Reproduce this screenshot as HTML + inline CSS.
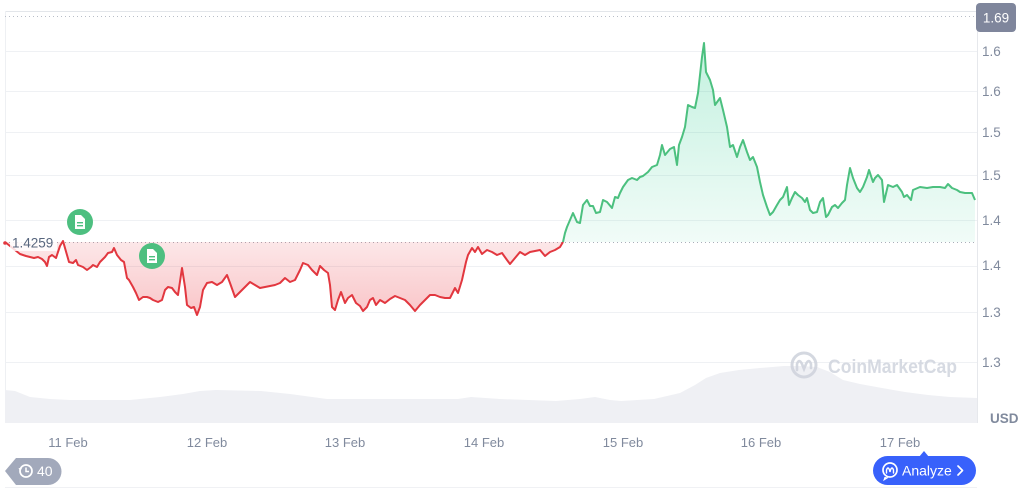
<!DOCTYPE html>
<html><head><meta charset="utf-8"><style>
html,body{margin:0;padding:0;background:#fff;}
svg{display:block;font-family:"Liberation Sans",Arial,sans-serif;}
</style></head><body>
<svg width="1024" height="491" viewBox="0 0 1024 491" xmlns="http://www.w3.org/2000/svg">
<defs>
<linearGradient id="gr" gradientUnits="userSpaceOnUse" x1="0" y1="242" x2="0" y2="318">
<stop offset="0" stop-color="#ea3943" stop-opacity="0.12"/>
<stop offset="1" stop-color="#ea3943" stop-opacity="0.30"/>
</linearGradient>
<linearGradient id="gg" gradientUnits="userSpaceOnUse" x1="0" y1="40" x2="0" y2="242">
<stop offset="0" stop-color="#16c784" stop-opacity="0.26"/>
<stop offset="1" stop-color="#16c784" stop-opacity="0.06"/>
</linearGradient>
</defs>
<rect width="1024" height="491" fill="#fff"/>
<!-- grid -->
<g stroke="#eff1f4" stroke-width="1">
<line x1="5" y1="51.5" x2="977" y2="51.5"/>
<line x1="5" y1="91.5" x2="977" y2="91.5"/>
<line x1="5" y1="132.5" x2="977" y2="132.5"/>
<line x1="5" y1="175.5" x2="977" y2="175.5"/>
<line x1="5" y1="220.5" x2="977" y2="220.5"/>
<line x1="5" y1="266.5" x2="977" y2="266.5"/>
<line x1="5" y1="312.5" x2="977" y2="312.5"/>
<line x1="5" y1="362.5" x2="977" y2="362.5"/>
</g>
<line x1="5" y1="11.5" x2="977" y2="11.5" stroke="#e3e6ea"/>
<line x1="5.5" y1="11" x2="5.5" y2="423" stroke="#eef0f3"/>
<line x1="977.5" y1="11" x2="977.5" y2="423" stroke="#e6e8ec"/>
<line x1="5" y1="487.5" x2="977" y2="487.5" stroke="#f0f1f4"/>
<!-- volume -->
<path d="M5,423 L5,390 L15,391 L30,397 L50,399 L70,400 L130,400 L160,397 L183,394 L200,391 L216,390 L261,391 L290,394 L327,399 L400,399 L458,399 L471,397 L500,399 L556,401 L580,399 L595,397 L610,400 L621,401 L654,399 L680,393 L695,385 L706,378 L720,373 L739,370 L760,368 L784,366 L800,366 L817,367 L830,372 L843,380 L860,384 L882,388 L905,392 L928,395 L950,397 L977,398 L977,423 Z" fill="#eff0f4"/>
<!-- watermark -->
<g opacity="0.9">
<circle cx="804" cy="365" r="12" fill="none" stroke="#d0d4dd" stroke-width="3"/>
<path d="M797,370 L797,364 Q799,358 802,364 L804,369 L806,364 Q809,358 811,364 L811,368" fill="none" stroke="#d0d4dd" stroke-width="2.6" stroke-linecap="round"/>
<text x="828" y="373" font-size="19" font-weight="bold" fill="#d2d6df" textLength="129" lengthAdjust="spacingAndGlyphs">CoinMarketCap</text>
</g>
<!-- dotted lines -->
<line x1="5" y1="16.5" x2="977" y2="16.5" stroke="#b9bec8" stroke-dasharray="1 3"/>
<line x1="5" y1="242.5" x2="977" y2="242.5" stroke="#a9aeb9" stroke-dasharray="1 3"/>
<!-- red area -->
<path d="M5,242 L10,246 L15,250 L20,254 L26,256 L30,257 L34,258 L38,257 L42,259 L45,262 L47,266 L49,257 L52,255 L56,258 L60,246 L63,241 L67,255 L69,262 L73,263 L76,260 L78,265 L83,267 L87,270 L91,267 L93,265 L97,267 L100,262 L105,257 L108,253 L112,252 L114,248 L117,255 L121,260 L124,262 L127,278 L129,280 L133,287 L136,293 L139,300 L143,297 L147,297 L150,298 L153,300 L158,302 L162,300 L165,290 L168,287 L172,288 L175,292 L178,295 L182,268 L185,287 L187,305 L191,308 L194,307 L197,315 L200,307 L203,290 L207,283 L212,282 L217,285 L222,282 L227,275 L230,283 L235,297 L240,292 L245,287 L250,282 L255,285 L260,288 L265,287 L270,286 L275,285 L280,283 L285,278 L290,282 L295,280 L300,270 L303,263 L308,265 L312,270 L317,275 L320,266 L324,270 L328,273 L330,285 L332,307 L335,310 L338,300 L341,292 L345,303 L348,298 L352,295 L356,303 L360,306 L363,311 L367,307 L370,300 L373,298 L376,305 L380,300 L385,303 L390,299 L395,296 L400,298 L405,300 L410,305 L415,311 L420,305 L425,300 L430,295 L435,295 L440,297 L445,298 L450,298 L455,288 L458,293 L462,280 L466,262 L468,255 L472,248 L475,252 L478,247 L482,254 L487,250 L492,252 L497,255 L502,253 L507,260 L510,264 L515,258 L520,252 L525,255 L530,252 L535,251 L540,250 L545,256 L550,252 L555,250 L560,247 L563,242 Z" fill="url(#gr)"/>
<!-- green area -->
<path d="M563,242 L565,233 L567,227 L570,220 L573,213 L577,222 L580,223 L583,205 L587,200 L590,206 L593,206 L596,213 L600,212 L603,200 L607,202 L612,208 L615,197 L618,198 L620,193 L623,187 L628,180 L632,178 L637,180 L640,177 L643,176 L648,172 L652,167 L657,165 L660,155 L662,145 L665,155 L670,149 L674,147 L677,165 L679,145 L682,137 L685,127 L688,105 L692,107 L695,108 L698,93 L702,57 L704,43 L706,72 L710,80 L713,90 L715,105 L720,98 L723,110 L727,127 L730,147 L733,145 L737,157 L740,147 L743,140 L747,152 L750,160 L753,157 L757,167 L760,182 L763,195 L767,207 L770,215 L773,212 L777,205 L780,200 L783,197 L787,187 L789,205 L792,198 L795,192 L798,195 L802,198 L805,202 L807,198 L810,210 L813,213 L817,212 L820,202 L823,198 L826,217 L828,215 L832,207 L835,205 L838,208 L842,203 L845,200 L847,185 L850,168 L853,178 L857,188 L860,192 L863,187 L867,177 L869,170 L873,182 L875,178 L878,175 L882,180 L884,202 L888,185 L893,187 L897,185 L902,192 L904,197 L907,195 L911,200 L913,190 L920,187 L927,188 L933,187 L940,187 L945,188 L948,184 L952,188 L957,190 L960,192 L965,193 L972,193 L975,200 L975,242 Z" fill="url(#gg)"/>
<!-- red line -->
<polyline fill="none" stroke="#e2373f" stroke-width="2" stroke-linejoin="round" points="5,242 10,246 15,250 20,254 26,256 30,257 34,258 38,257 42,259 45,262 47,266 49,257 52,255 56,258 60,246 63,241 67,255 69,262 73,263 76,260 78,265 83,267 87,270 91,267 93,265 97,267 100,262 105,257 108,253 112,252 114,248 117,255 121,260 124,262 127,278 129,280 133,287 136,293 139,300 143,297 147,297 150,298 153,300 158,302 162,300 165,290 168,287 172,288 175,292 178,295 182,268 185,287 187,305 191,308 194,307 197,315 200,307 203,290 207,283 212,282 217,285 222,282 227,275 230,283 235,297 240,292 245,287 250,282 255,285 260,288 265,287 270,286 275,285 280,283 285,278 290,282 295,280 300,270 303,263 308,265 312,270 317,275 320,266 324,270 328,273 330,285 332,307 335,310 338,300 341,292 345,303 348,298 352,295 356,303 360,306 363,311 367,307 370,300 373,298 376,305 380,300 385,303 390,299 395,296 400,298 405,300 410,305 415,311 420,305 425,300 430,295 435,295 440,297 445,298 450,298 455,288 458,293 462,280 466,262 468,255 472,248 475,252 478,247 482,254 487,250 492,252 497,255 502,253 507,260 510,264 515,258 520,252 525,255 530,252 535,251 540,250 545,256 550,252 555,250 560,247 563,242"/>
<!-- green line -->
<polyline fill="none" stroke="#4cc07f" stroke-width="2" stroke-linejoin="round" points="563,242 565,233 567,227 570,220 573,213 577,222 580,223 583,205 587,200 590,206 593,206 596,213 600,212 603,200 607,202 612,208 615,197 618,198 620,193 623,187 628,180 632,178 637,180 640,177 643,176 648,172 652,167 657,165 660,155 662,145 665,155 670,149 674,147 677,165 679,145 682,137 685,127 688,105 692,107 695,108 698,93 702,57 704,43 706,72 710,80 713,90 715,105 720,98 723,110 727,127 730,147 733,145 737,157 740,147 743,140 747,152 750,160 753,157 757,167 760,182 763,195 767,207 770,215 773,212 777,205 780,200 783,197 787,187 789,205 792,198 795,192 798,195 802,198 805,202 807,198 810,210 813,213 817,212 820,202 823,198 826,217 828,215 832,207 835,205 838,208 842,203 845,200 847,185 850,168 853,178 857,188 860,192 863,187 867,177 869,170 873,182 875,178 878,175 882,180 884,202 888,185 893,187 897,185 902,192 904,197 907,195 911,200 913,190 920,187 927,188 933,187 940,187 945,188 948,184 952,188 957,190 960,192 965,193 972,193 975,200"/>
<!-- start label -->
<rect x="10" y="233" width="47" height="18" fill="#fff" fill-opacity="0.82"/>
<circle cx="5" cy="243" r="1.8" fill="#e2373f"/>
<text x="12" y="247.5" font-size="13.5" fill="#58667e">1.4259</text>
<!-- doc icons -->
<g transform="translate(80,222)">
<circle r="13" fill="#4dbf80"/>
<path d="M-5,-7 h6 l4,4 v10 h-10 z" fill="#fff"/>
<rect x="-3" y="0" width="6" height="1.4" fill="#4dbf80"/>
<rect x="-3" y="3" width="6" height="1.4" fill="#4dbf80"/>
</g>
<g transform="translate(152,256)">
<circle r="13" fill="#4dbf80"/>
<path d="M-5,-7 h6 l4,4 v10 h-10 z" fill="#fff"/>
<rect x="-3" y="0" width="6" height="1.4" fill="#4dbf80"/>
<rect x="-3" y="3" width="6" height="1.4" fill="#4dbf80"/>
</g>
<!-- right axis -->
<rect x="976" y="3" width="40" height="29" rx="4" fill="#7f869c"/>
<text x="996" y="22.5" font-size="13.5" fill="#fff" text-anchor="middle">1.69</text>
<g font-size="13.5" fill="#808a9d">
<text x="982" y="56">1.6</text>
<text x="982" y="96">1.6</text>
<text x="982" y="137">1.5</text>
<text x="982" y="180">1.5</text>
<text x="982" y="225">1.4</text>
<text x="982" y="270">1.4</text>
<text x="982" y="317">1.3</text>
<text x="982" y="367">1.3</text>
</g>
<text x="990" y="423" font-size="13.5" font-weight="bold" fill="#808a9d">USD</text>
<!-- x axis -->
<g font-size="13" fill="#808a9d" text-anchor="middle">
<text x="68" y="447">11 Feb</text>
<text x="207" y="447">12 Feb</text>
<text x="345" y="447">13 Feb</text>
<text x="484" y="447">14 Feb</text>
<text x="623" y="447">15 Feb</text>
<text x="761" y="447">16 Feb</text>
<text x="900" y="447">17 Feb</text>
</g>
<!-- 40 badge -->
<path d="M5,471 L16,458 L48,458 A13.5,13.5 0 0 1 48,485 L16,485 Z" fill="#a2a9bb"/>
<circle cx="26" cy="471" r="6" fill="none" stroke="#fff" stroke-width="1.7"/>
<path d="M26,467.5 V471.5 H29" fill="none" stroke="#fff" stroke-width="1.5"/>
<path d="M18.5,468 l1.5,3 l2,-2.5 z" fill="#fff"/>
<text x="37" y="476" font-size="14" fill="#fff">40</text>
<!-- Analyze button -->
<path d="M919,457 L924,451 L929,457 Z" fill="#3861fb"/>
<rect x="873" y="456" width="103" height="29" rx="14.5" fill="#3861fb"/>
<circle cx="890" cy="470" r="7" fill="none" stroke="#fff" stroke-width="1.7"/>
<path d="M885,477 L884,480 L888,477.5" fill="#fff" stroke="#fff" stroke-width="1"/>
<path d="M886.5,473 L886.5,470 Q888,466 889.5,470 L890,472 L890.5,470 Q892,466 893.5,470 L893.5,473" fill="none" stroke="#fff" stroke-width="1.4" stroke-linecap="round"/>
<text x="902" y="475.5" font-size="14" fill="#fff">Analyze</text>
<path d="M958,466 L962.5,470.5 L958,475" fill="none" stroke="#fff" stroke-width="1.7" stroke-linecap="round" stroke-linejoin="round"/>
</svg>
</body></html>
